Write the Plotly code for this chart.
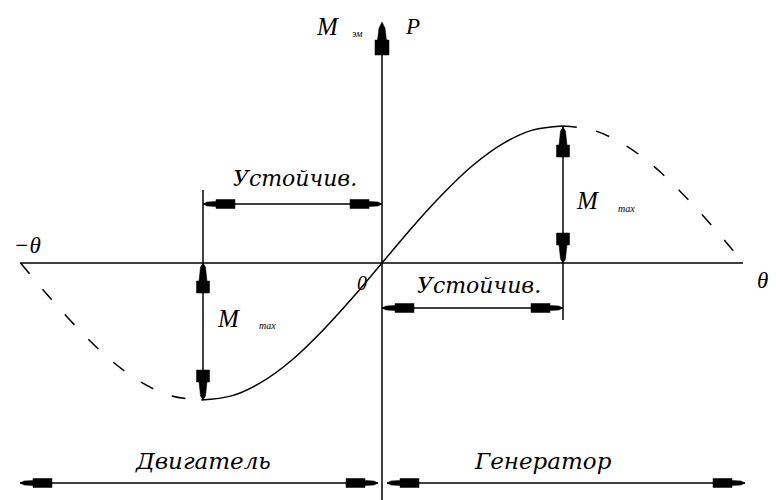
import plotly.graph_objects as go

# ---- data (angle in degrees, normalised power / torque) ----
theta_solid = [-90, -75, -60, -45, -30, -15, 0, 15, 30, 45, 60, 75, 90]
p_solid = [-1.0, -0.97, -0.87, -0.71, -0.5, -0.26, 0.0, 0.26, 0.5, 0.71, 0.87, 0.97, 1.0]
theta_dash_right = [90, 105, 120, 135, 150, 165, 180]
p_dash_right = [1.0, 0.97, 0.87, 0.71, 0.5, 0.26, 0.0]
theta_dash_left = [-180, -165, -150, -135, -120, -105, -90]
p_dash_left = [0.0, -0.26, -0.5, -0.71, -0.87, -0.97, -1.0]

labels = {
    "stable": "Устойчив.",
    "motor": "Двигатель",
    "generator": "Генератор",
}

# ---- layout helpers (pixel -> data) ----
W, H = 776, 500
X0, SX = 382.0, 2.008   # axis origin px, px per degree
Y0, SY = 263.0, 137.0   # axis origin px, px per unit


def dx(px):
    return (px - X0) / SX


def dy(py):
    return (Y0 - py) / SY


BLACK = "black"
fig = go.Figure()

fig.add_trace(go.Scatter(x=theta_solid, y=p_solid, mode="lines",
                         line=dict(color=BLACK, width=1.5, shape="spline"),
                         hoverinfo="skip", showlegend=False))
for tx, ty in [(theta_dash_right, p_dash_right), (theta_dash_left, p_dash_left)]:
    fig.add_trace(go.Scatter(x=tx, y=ty, mode="lines",
                             line=dict(color=BLACK, width=1.5, shape="spline",
                                       dash="14px,20px"),
                             hoverinfo="skip", showlegend=False))

shapes = []


def line(x1, y1, x2, y2, w=1.5):
    shapes.append(dict(type="line", xref="x", yref="y",
                       x0=dx(x1), y0=dy(y1), x1=dx(x2), y1=dy(y2),
                       line=dict(color=BLACK, width=w)))


def head(tx, ty, direction, profile):
    # profile: list of (distance from tip, half width)
    pts_a, pts_b = [], []
    for d, hw in profile:
        if direction == "left":
            pts_a.append((tx + d, ty - hw)); pts_b.append((tx + d, ty + hw))
        elif direction == "right":
            pts_a.append((tx - d, ty - hw)); pts_b.append((tx - d, ty + hw))
        elif direction == "up":
            pts_a.append((tx - hw, ty + d)); pts_b.append((tx + hw, ty + d))
        else:
            pts_a.append((tx - hw, ty - d)); pts_b.append((tx + hw, ty - d))
    pts = [(tx, ty)] + pts_a + list(reversed(pts_b))
    path = "M " + " L ".join(f"{dx(px):.4f},{dy(py):.4f}" for px, py in pts) + " Z"
    shapes.append(dict(type="path", xref="x", yref="y", path=path,
                       fillcolor=BLACK, line=dict(color=BLACK, width=0.5)))


HPROF = [(4, 2.0), (13, 2.6), (13, 4.5), (32, 4.5)]
VPROF = [(4, 2.5), (18, 4.0), (18, 6.5), (30, 6.5)]
TPROF = [(6, 3.0), (18, 4.5), (18, 7.0), (33, 7.0)]

# axes
line(X0, 30, X0, 500)
line(20, Y0, 743, Y0)
head(X0, 22, "up", TPROF)

# upper stability dimension
line(203, 190, 203, 400)
line(203, 204, X0, 204)
head(203, 204, "left", HPROF)
head(X0, 204, "right", HPROF)

# lower stability dimension
line(563, 126, 563, 320)
line(X0, 308, 563, 308)
head(X0, 308, "left", HPROF)
head(563, 308, "right", HPROF)

# M max arrows
head(563, 127, "up", VPROF)
head(563, Y0, "down", VPROF)
head(203, Y0, "up", VPROF)
head(203, 400, "down", VPROF)

# bottom arrows
line(20, 483, 378, 483)
head(20, 483, "left", HPROF)
head(378, 483, "right", HPROF)
line(387, 483, 745, 483)
head(387, 483, "left", HPROF)
head(745, 483, "right", HPROF)

ann = []


def text(px, py, s, size, family="DejaVu Serif", xanchor="center", italic=True):
    ann.append(dict(x=dx(px), y=dy(py), xref="x", yref="y", text=s,
                    showarrow=False, xanchor=xanchor, yanchor="middle",
                    font=dict(family=family, size=size, color=BLACK,
                              style="italic" if italic else "normal")))


text(295, 178, labels["stable"], 22)
text(479, 285, labels["stable"], 22)
text(203, 461, labels["motor"], 23)
text(543, 461, labels["generator"], 23)

text(327, 26, "M", 25, family="Liberation Serif")
text(357, 33, "эм", 10, family="Liberation Serif")
text(412, 26, "P", 23, family="Liberation Serif")
text(587, 200, "M", 25, family="Liberation Serif")
text(626, 208, "max", 10, family="Liberation Serif")
text(228, 318, "M", 25, family="Liberation Serif")
text(267, 325, "max", 10, family="Liberation Serif")
text(27, 245, "−θ", 23, family="Liberation Serif")
text(762, 280, "θ", 23, family="Liberation Serif")
text(362, 283, "0", 20, family="Liberation Serif")

fig.update_layout(
    width=W, height=H, margin=dict(l=0, r=0, t=0, b=0),
    paper_bgcolor="white", plot_bgcolor="white",
    xaxis=dict(range=[dx(0), dx(W)], visible=False, fixedrange=True),
    yaxis=dict(range=[dy(H), dy(0)], visible=False, fixedrange=True),
    shapes=shapes, annotations=ann, showlegend=False,
)

fig.write_html("out.html", config={"displayModeBar": False},
               post_script="document.body.style.margin='0px';document.body.style.overflow='hidden';")
